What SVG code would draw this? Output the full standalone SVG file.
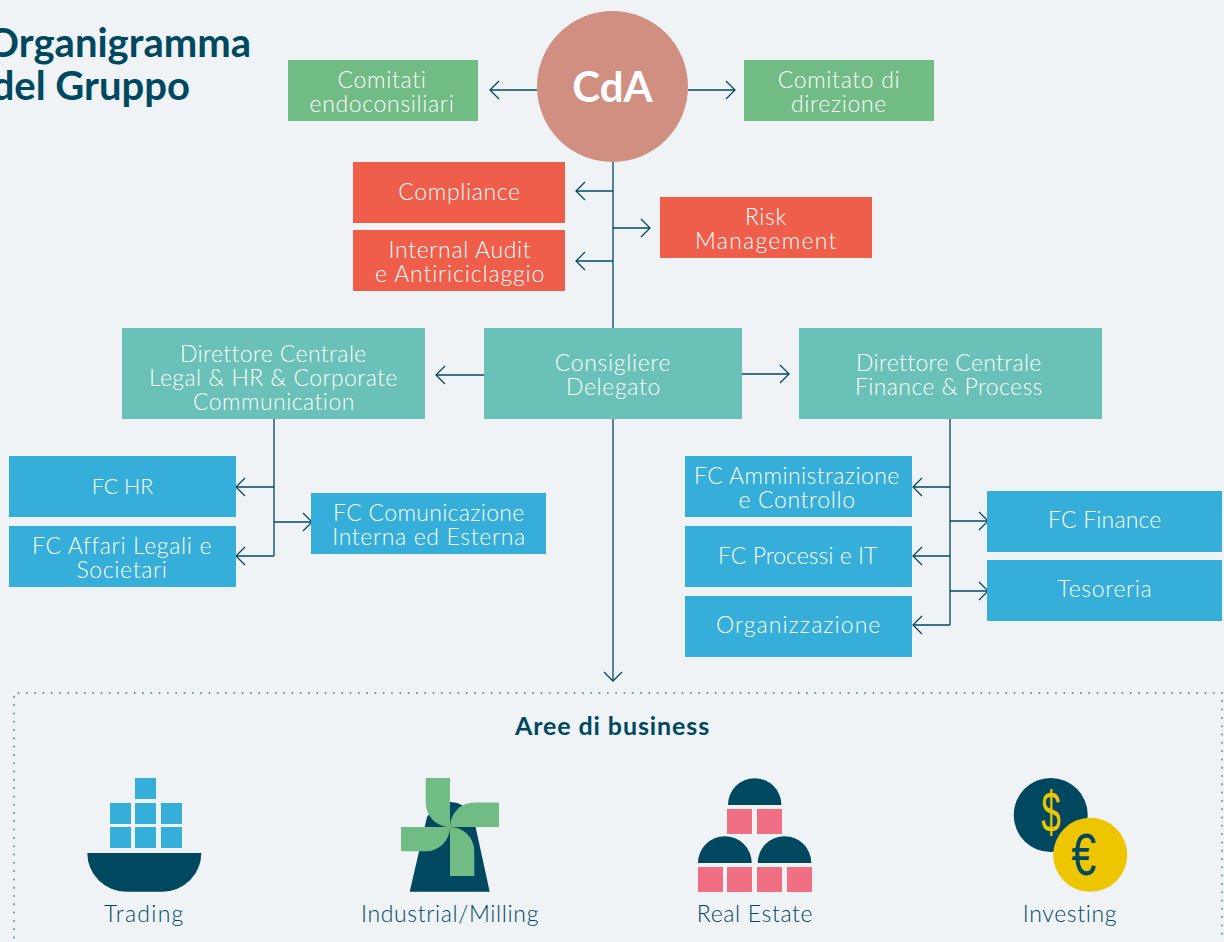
<svg xmlns="http://www.w3.org/2000/svg" width="1224" height="942" viewBox="0 0 1224 942">
<style>
text{font-family:"Lato","Noto Sans","Liberation Sans",sans-serif}
.l{font-size:23px;font-weight:300;fill:#fff;text-anchor:middle;letter-spacing:.65px}
.i{font-size:23px;font-weight:300;fill:#004860;text-anchor:middle;letter-spacing:.65px}
.g{fill:#70BC84}.r{fill:#EE5E4B}.t{fill:#69C1B7}.b{fill:#35AED9}.d{fill:#004860}.p{fill:#F06F82}
.c line{stroke:#004860;stroke-width:1.3;fill:none}
.a{marker-end:url(#ah)}
</style>
<defs>
<marker id="ah" markerUnits="userSpaceOnUse" markerWidth="24" markerHeight="24" refX="12" refY="12" orient="auto" overflow="visible">
<path d="M3 3L12 12L3 21" fill="none" stroke="#004860" stroke-width="1.3"/>
</marker>
</defs>
<rect width="1224" height="942" fill="#EFF3F6"/>
<g id="title" font-weight="700" fill="#004860" font-size="40">
<text x="251" y="57" style="text-anchor:end">Organigramma</text>
<text x="190" y="100" style="text-anchor:end">del Gruppo</text>
</g>
<g id="connectors" class="c">
<line class="a" x1="537" y1="90" x2="490" y2="90"/>
<line class="a" x1="688" y1="90" x2="735" y2="90"/>
<line x1="613" y1="162" x2="613" y2="328"/>
<line class="a" x1="613" y1="191" x2="576" y2="191"/>
<line class="a" x1="613" y1="228" x2="650" y2="228"/>
<line class="a" x1="613" y1="261" x2="576" y2="261"/>
<line class="a" x1="484" y1="375" x2="436" y2="375"/>
<line class="a" x1="742" y1="374" x2="789" y2="374"/>
<line class="a" x1="613" y1="419" x2="613" y2="681"/>
<line x1="274" y1="419" x2="274" y2="556"/>
<line class="a" x1="274" y1="487" x2="236" y2="487"/>
<line class="a" x1="274" y1="556" x2="236" y2="556"/>
<line class="a" x1="274" y1="522" x2="312" y2="522"/>
<line x1="950" y1="419" x2="950" y2="625"/>
<line class="a" x1="950" y1="487" x2="913" y2="487"/>
<line class="a" x1="950" y1="556" x2="913" y2="556"/>
<line class="a" x1="950" y1="625" x2="913" y2="625"/>
<line class="a" x1="950" y1="521" x2="988" y2="521"/>
<line class="a" x1="950" y1="591" x2="988" y2="591"/>
</g>
<g id="cda"><circle cx="612.5" cy="86.5" r="75.5" fill="#D08F81"/><text x="612.5" y="102" font-size="42" font-weight="700" fill="#fff" text-anchor="middle">CdA</text></g>
<g id="comitati"><rect class="g" x="288" y="60" width="190" height="61"/><text class="l" x="382" y="88">Comitati</text><text class="l" x="382" y="112">endoconsiliari</text></g>
<g id="comitato"><rect class="g" x="744" y="60" width="190" height="61"/><text class="l" x="839" y="88">Comitato di</text><text class="l" x="839" y="112">direzione</text></g>
<g id="compliance"><rect class="r" x="353" y="162" width="212" height="61"/><text class="l" x="459.500" y="200">Compliance</text></g>
<g id="audit"><rect class="r" x="353" y="230" width="212" height="61"/><text class="l" x="460" y="258">Internal Audit</text><text class="l" x="460" y="282" textLength="170">e Antiriciclaggio</text></g>
<g id="risk"><rect class="r" x="660" y="197" width="212" height="61"/><text class="l" x="766" y="225">Risk</text><text class="l" x="766" y="249" textLength="142">Management</text></g>
<g id="dc-legal"><rect class="t" x="122" y="328" width="303" height="91"/><text class="l" x="273.500" y="362" textLength="187">Direttore Centrale</text><text class="l" x="273.500" y="386" textLength="249">Legal &amp; HR &amp; Corporate</text><text class="l" x="274" y="410" textLength="162">Communication</text></g>
<g id="cd"><rect class="t" x="484" y="328" width="258" height="91"/><text class="l" x="613" y="371">Consigliere</text><text class="l" x="613.500" y="395">Delegato</text></g>
<g id="dc-finance"><rect class="t" x="799" y="328" width="303" height="91"/><text class="l" x="949" y="371" textLength="186">Direttore Centrale</text><text class="l" x="949" y="395" textLength="188">Finance &amp; Process</text></g>
<g id="fc-hr"><rect class="b" x="9" y="456" width="227" height="61"/><text class="l" x="122.500" y="494" style="font-size:21.5px;letter-spacing:0">FC HR</text></g>
<g id="fc-legal"><rect class="b" x="9" y="526" width="227" height="61"/><text class="l" x="122" y="554">FC Affari Legali e</text><text class="l" x="122" y="578">Societari</text></g>
<g id="fc-com"><rect class="b" x="311" y="493" width="235" height="61"/><text class="l" x="429" y="521" textLength="192">FC Comunicazione</text><text class="l" x="429" y="545">Interna ed Esterna</text></g>
<g id="fc-amm"><rect class="b" x="685" y="456" width="227" height="61"/><text class="l" x="797" y="484" textLength="206">FC Amministrazione</text><text class="l" x="797" y="508">e Controllo</text></g>
<g id="fc-it"><rect class="b" x="685" y="526" width="227" height="61"/><text class="l" x="798" y="564" textLength="160">FC Processi e IT</text></g>
<g id="org"><rect class="b" x="685" y="596" width="227" height="61"/><text class="l" x="798.500" y="633" textLength="165">Organizzazione</text></g>
<g id="fc-fin"><rect class="b" x="987" y="491" width="235" height="61"/><text class="l" x="1105" y="528" textLength="114">FC Finance</text></g>
<g id="tes"><rect class="b" x="987" y="560" width="235" height="61"/><text class="l" x="1105" y="597">Tesoreria</text></g>
<g id="business">
<path d="M1222 693H14V942M1222 693V942" fill="none" stroke="#5F8FA0" stroke-width="2" stroke-linecap="round" stroke-dasharray="0 8.3"/>
<text x="612.5" y="735" font-size="25" font-weight="700" fill="#004860" text-anchor="middle" letter-spacing=".9">Aree di business</text>
</g>
<g id="trading">
<g class="b"><rect x="135" y="778" width="21" height="21"/><rect x="110" y="803" width="21" height="21"/><rect x="135" y="803" width="21" height="21"/><rect x="161" y="803" width="21" height="21"/><rect x="110" y="827" width="21" height="21"/><rect x="135" y="827" width="21" height="21"/><rect x="161" y="827" width="21" height="21"/></g>
<path class="d" d="M87.300 853H201.300A38.700 38.700 0 0 1 162.600 891.700H126A38.700 38.700 0 0 1 87.300 853Z"/>
<text class="i" x="144" y="922" textLength="80">Trading</text>
</g>
<g id="industrial">
<path class="d" d="M409.700 891.700L427 817Q437 802 450 802Q463 802 473 815L489.700 891.700Z"/>
<path class="g" d="M425.700 778H450V827A24.300 24.300 0 0 1 425.700 802.700Z"/>
<path class="g" d="M450 827A24.300 24.300 0 0 1 474.300 802.500H499V827Z"/>
<path class="g" d="M450 827A24.300 24.300 0 0 1 474.300 851.300V876H450Z"/>
<path class="g" d="M450 827A24.300 24.300 0 0 1 425.700 851.300H401V827Z"/>
<text class="i" x="450" y="922">Industrial/Milling</text>
</g>
<g id="realestate">
<path class="d" d="M728 805A26.700 26.700 0 0 1 781.400 805Z"/>
<path class="d" d="M698 863A26.800 26.800 0 0 1 751.700 863Z"/>
<path class="d" d="M757.700 863A26.800 26.800 0 0 1 811.300 863Z"/>
<g class="p"><rect x="727" y="809" width="25" height="25"/><rect x="757" y="809" width="25" height="25"/><rect x="698" y="867" width="25" height="25"/><rect x="727" y="867" width="25" height="25"/><rect x="757" y="867" width="25" height="25"/><rect x="787" y="867" width="25" height="25"/></g>
<text class="i" x="755" y="922">Real Estate</text>
</g>
<g id="investing">
<circle class="d" cx="1050.700" cy="815" r="37"/>
<text x="0" y="0" transform="translate(1051 832) scale(.92 1.5)" font-size="38" fill="#EDC500" text-anchor="middle" style="font-family:'Liberation Sans',sans-serif">$</text>
<circle cx="1090.200" cy="854.800" r="37" fill="#EDC500"/>
<text x="0" y="0" transform="translate(1084 875) scale(1.25 1.65)" font-size="36" fill="#004860" text-anchor="middle" style="font-family:'Liberation Sans',sans-serif">€</text>
<text class="i" x="1070" y="922">Investing</text>
</g>
</svg>
